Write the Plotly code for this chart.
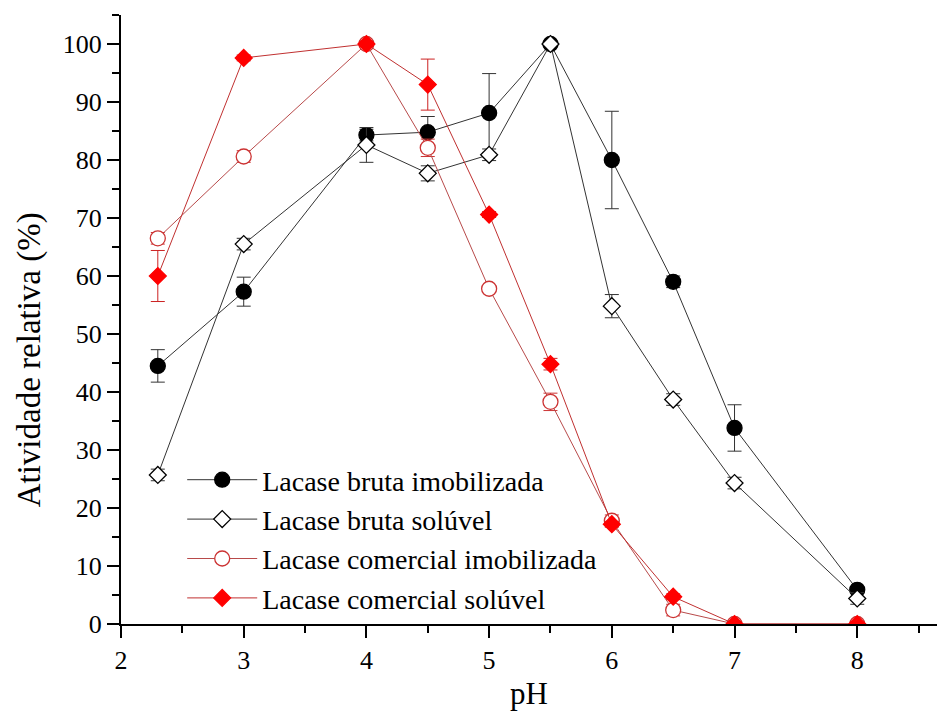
import plotly.graph_objects as go

pH = [2.3, 3, 4, 4.5, 5, 5.5, 6, 6.5, 7, 8]

bruta_imob = [44.5, 57.3, 84.3, 84.8, 88.1, 100, 80.0, 59.0, 33.8, 5.9]
bruta_imob_err = [2.8, 2.5, 1.0, 2.7, 6.8, 0, 8.4, 1.0, 4.0, 0.5]

bruta_sol = [25.7, 65.5, 82.6, 77.7, 80.9, 100, 54.8, 38.7, 24.3, 4.4]
bruta_sol_err = [1.0, 1.0, 3.0, 1.3, 1.0, 0, 2.0, 1.0, 1.0, 1.0]

com_imob = [66.5, 80.6, 100, 82.1, 57.8, 38.3, 17.8, 2.4, 0, 0]
com_imob_err = [1.0, 1.0, 0, 1.5, 0.5, 1.5, 1.0, 1.0, 0, 0]

com_sol = [60.0, 97.6, 100, 93.0, 70.6, 44.8, 17.2, 4.7, 0, 0]
com_sol_err = [4.4, 0.5, 0.5, 4.4, 0.5, 1.0, 0.5, 0.5, 0, 0]

names = ["Lacase bruta imobilizada", "Lacase bruta solúvel",
         "Lacase comercial imobilizada", "Lacase comercial solúvel"]

FONT = "Times New Roman, Liberation Serif, serif"

fig = go.Figure()

def add(y, err, name, symbol, size, fill, edge, line_color, err_color):
    fig.add_trace(go.Scatter(
        x=pH, y=y, name=name, mode="lines+markers",
        line=dict(color=line_color, width=1),
        marker=dict(symbol=symbol, size=size, color=fill,
                    line=dict(color=edge, width=1.3)),
        error_y=dict(type="data", array=err, visible=True,
                     color=err_color, thickness=1, width=7),
    ))

add(bruta_imob, bruta_imob_err, names[0], "circle", 15, "black", "black", "#333333", "#333333")
add(bruta_sol, bruta_sol_err, names[1], "diamond", 13, "white", "black", "#333333", "#333333")
add(com_imob, com_imob_err, names[2], "circle", 15, "white", "#cc3333", "#b84a4a", "#cc3333")
add(com_sol, com_sol_err, names[3], "diamond", 13, "#ff0000", "#ff0000", "#c03030", "#cc2222")

fig.update_layout(
    template="none",
    width=937, height=726,
    margin=dict(l=121, r=0, t=15, b=102),
    paper_bgcolor="white", plot_bgcolor="white",
    font=dict(family=FONT, color="black", size=26),
    showlegend=True,
    legend=dict(x=0.075, y=0.2775, xanchor="left", yanchor="top",
                font=dict(family=FONT, size=28, color="black"),
                bgcolor="rgba(0,0,0,0)", itemwidth=70, tracegroupgap=0),
    xaxis=dict(
        range=[2, 8.65], showgrid=False, zeroline=False,
        showline=True, linecolor="black", linewidth=2,
        ticks="outside", ticklen=12, tickwidth=2, tickcolor="black",
        tick0=2, dtick=1,
        minor=dict(ticks="outside", ticklen=7, tickwidth=2, tickcolor="black", dtick=0.5),
        title=dict(text="pH", font=dict(family=FONT, size=31), standoff=8),
    ),
    yaxis=dict(
        range=[0, 105], showgrid=False, zeroline=False,
        showline=True, linecolor="black", linewidth=2,
        ticks="outside", ticklen=12, tickwidth=2, tickcolor="black",
        tick0=0, dtick=10,
        minor=dict(ticks="outside", ticklen=7, tickwidth=2, tickcolor="black", dtick=5),
    ),
    annotations=[dict(
        text="Atividade relativa (%)", textangle=-90,
        xref="paper", yref="paper", x=-0.112, y=0.434,
        xanchor="center", yanchor="middle", showarrow=False,
        font=dict(family=FONT, size=33),
    )],
)
fig.update_xaxes(tickfont=dict(family=FONT, size=26, color="black"))
fig.update_yaxes(tickfont=dict(family=FONT, size=26, color="black"))

fig.write_html("out.html")
